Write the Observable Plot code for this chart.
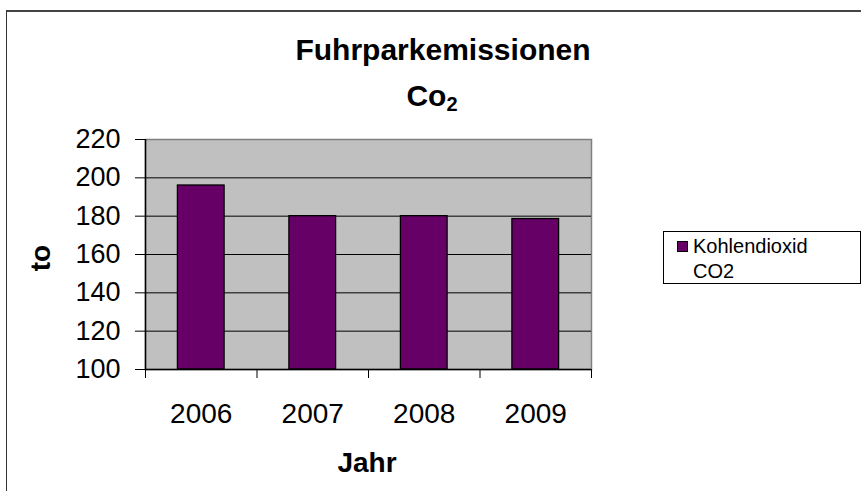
<!DOCTYPE html>
<html>
<head>
<meta charset="utf-8">
<script src="https://cdn.jsdelivr.net/npm/d3@7"></script>
<script src="https://cdn.jsdelivr.net/npm/@observablehq/plot@0.6"></script>
<style>
  html, body { margin: 0; padding: 0; background: #fff; }
  body { width: 861px; height: 491px; position: relative; overflow: hidden; font-family: "Liberation Sans", Arial, sans-serif; }
  #chart { position: absolute; left: 0; top: 0; }
  .frame { position: absolute; left: 6px; top: 10px; width: 900px; height: 600px; border-left: 1px solid #333; border-top: 2px solid #444; box-sizing: border-box; pointer-events: none; }
  .t { position: absolute; white-space: nowrap; line-height: 1; color: #000; }
  .bold { font-weight: bold; }
  #legend { position: absolute; left: 663px; top: 231px; width: 198px; height: 53px; border: 1px solid #000; box-sizing: border-box; background: #fff; }
  #swatch { position: absolute; left: 13px; top: 9px; width: 11px; height: 11px; background: #660066; border: 1px solid #000; box-sizing: border-box; }
</style>
</head>
<body>
<div id="chart"></div>
<div class="frame"></div>
<div id="title" class="t bold" style="font-size:30px; left:443px; top:35px; transform:translateX(-50%);"></div>
<div id="subtitle" class="t bold" style="font-size:30px; left:432px; top:81px; transform:translateX(-50%);"></div>
<div id="ylabel" class="t bold" style="font-size:28px; left:41px; top:258px; transform:translate(-50%,-50%) rotate(-90deg);"></div>
<div id="xlabel" class="t bold" style="font-size:28px; left:367px; top:449px; transform:translateX(-50%);"></div>
<div id="legend"><div id="swatch"></div>
  <div id="leg1" class="t" style="font-size:20px; left:29px; top:4px;"></div>
  <div id="leg2" class="t" style="font-size:20px; left:29px; top:29px;"></div>
</div>
<script>
// ---- data ----
const years = ["2006", "2007", "2008", "2009"];
const co2 = [196, 180, 180, 178.5];
const yTicks = [100, 120, 140, 160, 180, 200, 220];
const titleText = "Fuhrparkemissionen";
const seriesName = ["Kohlendioxid", "CO2"];

const idx = years.map((_, i) => i);

const plot = Plot.plot({
  width: 861,
  height: 491,
  marginLeft: 145,
  marginRight: 270,
  marginTop: 139,
  marginBottom: 122,
  style: { fontFamily: "'Liberation Sans', Arial, sans-serif", background: "transparent", color: "#000" },
  x: { domain: [0, years.length], axis: null },
  y: { domain: [100, 220], axis: null },
  marks: [
    Plot.frame({ fill: "#c0c0c0", stroke: "#808080", strokeWidth: 1.5 }),
    Plot.gridY(yTicks.filter(d => d > 100 && d < 220), { stroke: "#000", strokeOpacity: 1, strokeWidth: 1 }),
    Plot.rectY(idx, {
      x1: i => i, x2: i => i + 1, y1: 100, y2: i => co2[i],
      insetLeft: 32.4, insetRight: 32.4,
      fill: "#660066", stroke: "#000", strokeWidth: 1.3
    }),
    Plot.axisY({ ticks: yTicks, tickSize: 10, tickPadding: 15, fontSize: 27, tickFormat: d => String(d), stroke: "#000", strokeWidth: 1 }),
    Plot.axisX({ ticks: d3.range(0, years.length + 1), tickSize: 9, tickFormat: () => "", stroke: "#000", strokeWidth: 1 }),
    Plot.axisX({ ticks: idx.map(i => i + 0.5), tickSize: 0, tickPadding: 34, fontSize: 28, tickFormat: d => years[Math.floor(d)] }),
    Plot.ruleX([0], { stroke: "#000", strokeWidth: 1.5 }),
    Plot.ruleY([100], { stroke: "#000", strokeWidth: 1.5 })
  ]
});
document.getElementById("chart").appendChild(plot);

document.getElementById("title").textContent = titleText;
document.getElementById("subtitle").innerHTML = "Co<sub style='font-size:20px; vertical-align:-5px;'>2</sub>";
document.getElementById("ylabel").textContent = "to";
document.getElementById("xlabel").textContent = "Jahr";
document.getElementById("leg1").textContent = seriesName[0];
document.getElementById("leg2").textContent = seriesName[1];
</script>
</body>
</html>
